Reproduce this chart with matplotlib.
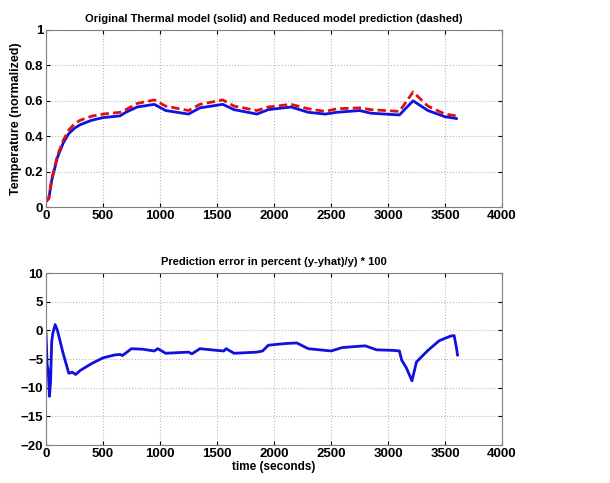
import numpy as np
import matplotlib
matplotlib.use("Agg")
from matplotlib import pyplot as plt

plt.rcParams['font.family'] = ['Liberation Sans', 'DejaVu Sans']
plt.rcParams['font.weight'] = 'bold'

# original thermal model (solid)
t_orig = [0, 25, 50, 100, 150, 200, 250, 300, 400, 500, 650, 700, 800, 950, 1050,
          1250, 1350, 1550, 1650, 1850, 1950, 2150, 2300, 2450, 2550, 2750, 2850,
          3100, 3220, 3350, 3500, 3600]
y_orig = [0.03, 0.05, 0.15, 0.28, 0.36, 0.415, 0.445, 0.465, 0.49, 0.505, 0.515,
          0.535, 0.565, 0.58, 0.545, 0.525, 0.56, 0.58, 0.55, 0.525, 0.55, 0.565,
          0.535, 0.525, 0.535, 0.545, 0.53, 0.52, 0.60, 0.545, 0.51, 0.50]

# reduced model prediction (dashed)
t_pred = [0, 25, 50, 100, 150, 200, 250, 300, 400, 500, 650, 700, 800, 950, 1050,
          1250, 1350, 1550, 1650, 1850, 1950, 2150, 2300, 2450, 2550, 2750, 2850,
          3100, 3220, 3350, 3500, 3600, 3610]
y_pred = [0.03, 0.05, 0.16, 0.29, 0.375, 0.435, 0.47, 0.49, 0.513, 0.525, 0.535,
          0.55, 0.585, 0.605, 0.57, 0.545, 0.58, 0.605, 0.57, 0.545, 0.565, 0.58,
          0.555, 0.54, 0.555, 0.56, 0.55, 0.54, 0.65, 0.57, 0.525, 0.515, 0.52]

# prediction error in percent
t_err = [0, 10, 20, 30, 40, 50, 60, 80, 100, 150, 200, 230, 260, 300, 400, 500,
         600, 650, 670, 750, 850, 950, 980, 1050, 1250, 1280, 1350, 1500, 1560,
         1580, 1650, 1850, 1900, 1950, 2100, 2200, 2300, 2500, 2600, 2800, 2900,
         3050, 3100, 3120, 3160, 3210, 3250, 3350, 3450, 3550, 3580, 3600, 3610]
err = [-0.5, -6, -7, -11.5, -9, -2, -0.5, 1, 0, -4, -7.5, -7.3, -7.7, -7, -5.8,
       -4.8, -4.3, -4.2, -4.4, -3.2, -3.3, -3.6, -3.2, -4, -3.8, -4.1, -3.2, -3.5,
       -3.6, -3.2, -4.0, -3.8, -3.6, -2.6, -2.3, -2.2, -3.2, -3.6, -3.0, -2.7,
       -3.4, -3.5, -3.6, -5.2, -6.5, -8.8, -5.5, -3.5, -1.8, -1.0, -0.9, -3, -4.3]

fig = plt.figure(figsize=(6.1, 4.83), dpi=100)
ax1 = fig.add_axes([46/610, 1 - 207/483, 456/610, 177/483])
ax2 = fig.add_axes([46/610, 1 - 445/483, 456/610, 172/483])

ax1.plot(t_orig, y_orig, color='#1010e0', lw=2)
ax1.plot(t_pred, y_pred, color='#e01010', lw=2, ls='--', dashes=(3, 1.5))
ax1.set_xlim(0, 4000)
ax1.set_ylim(0, 1)
ax1.set_yticks([0, 0.2, 0.4, 0.6, 0.8, 1])
ax1.set_yticklabels(['0', '0.2', '0.4', '0.6', '0.8', '1'])
ax1.set_ylabel('Temperature (normalized)', fontsize=9, fontweight='bold', labelpad=2)
ax1.set_title('Original Thermal model (solid) and Reduced model prediction (dashed)',
              fontsize=8, fontweight='bold', pad=6)

ax2.plot(t_err, err, color='#1010e0', lw=2)
ax2.set_xlim(0, 4000)
ax2.set_ylim(-20, 10)
ax2.set_yticks([-20, -15, -10, -5, 0, 5, 10])
ax2.set_xlabel('time (seconds)', fontsize=8.5, fontweight='bold', labelpad=1)
ax2.set_title('Prediction error in percent (y-yhat)/y) * 100',
              fontsize=8, fontweight='bold', pad=6)

for ax in (ax1, ax2):
    ax.grid(True, ls=':', color='#b8b8b8', lw=0.8)
    ax.tick_params(direction='in', top=True, right=True, labelsize=9.5, length=3, pad=2)
    for s in ax.spines.values():
        s.set_color('#808080')
        s.set_linewidth(0.8)

fig.savefig('out.png', dpi=100)
